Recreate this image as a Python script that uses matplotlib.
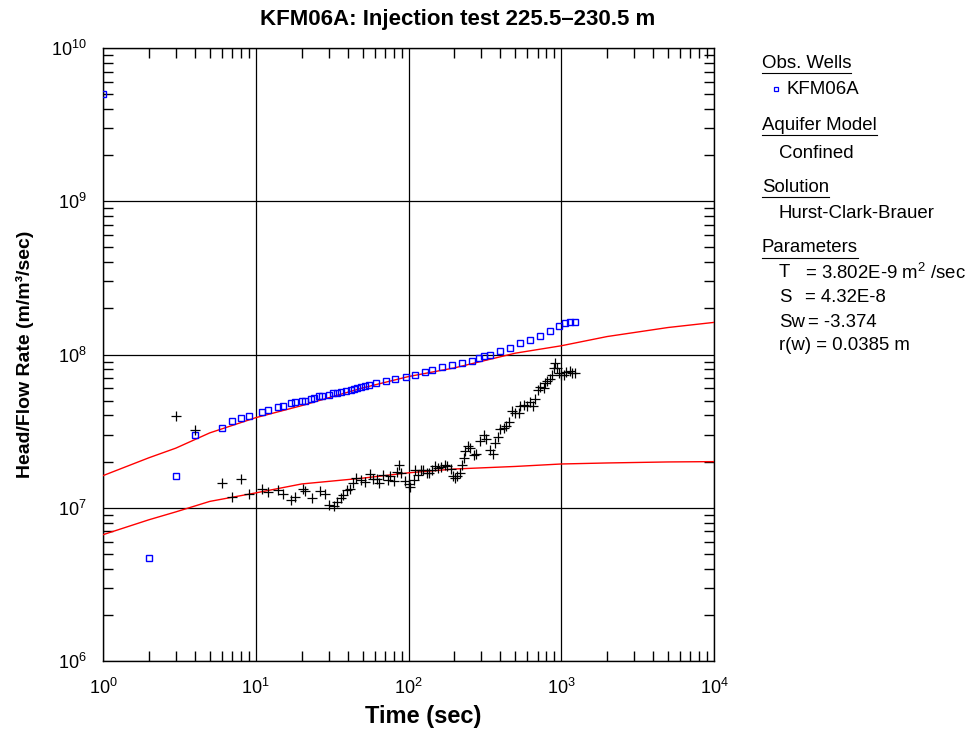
import matplotlib
matplotlib.use("Agg")
import matplotlib.pyplot as plt
from matplotlib.lines import Line2D
from matplotlib.ticker import LogLocator, LogFormatterMathtext, NullFormatter

plt.rcParams["font.family"] = ["Liberation Sans", "DejaVu Sans"]
plt.rcParams["mathtext.fontset"] = "custom"
plt.rcParams["mathtext.rm"] = "Liberation Sans"
plt.rcParams["mathtext.it"] = "Liberation Sans:italic"
plt.rcParams["mathtext.bf"] = "Liberation Sans:bold"

# ---------------------------------------------------------------------------
# data
# ---------------------------------------------------------------------------
obs_time = [1, 2, 3, 4, 6, 7, 8, 9, 11, 12, 14, 15, 17, 18, 20, 21, 23, 24,
            26, 27, 30, 32, 34, 36, 39, 42, 44, 46, 49, 52, 55, 61, 71, 82,
            96, 111, 129, 143, 166, 193, 224, 261, 288, 310, 344, 399, 464,
            540, 627, 729, 848, 960, 1062, 1145, 1235]
obs_head = [5.0e9, 4.67e6, 1.6e7, 3.0e7, 3.33e7, 3.69e7, 3.87e7, 3.97e7,
            4.24e7, 4.35e7, 4.55e7, 4.62e7, 4.81e7, 4.93e7, 4.98e7, 5.0e7,
            5.15e7, 5.21e7, 5.37e7, 5.37e7, 5.46e7, 5.59e7, 5.62e7, 5.67e7,
            5.80e7, 5.85e7, 5.93e7, 6.02e7, 6.11e7, 6.27e7, 6.36e7, 6.53e7,
            6.69e7, 6.93e7, 7.14e7, 7.40e7, 7.66e7, 7.98e7, 8.26e7, 8.57e7,
            8.83e7, 9.10e7, 9.51e7, 9.75e7, 1.0e8, 1.05e8, 1.11e8, 1.18e8,
            1.24e8, 1.33e8, 1.43e8, 1.53e8, 1.60e8, 1.64e8, 1.64e8]

deriv_time = [3, 4, 6, 7, 8, 9, 11, 12, 14, 15, 17, 18, 20.5, 21, 23.5, 26.2,
              28.2, 30.1, 32.5, 33.8, 35.9, 37.4, 39.3, 41.3, 43.2, 45.3,
              48.6, 51.6, 55.6, 58.2, 61.8, 64, 67.6, 73.2, 75.5, 80.7, 84.4,
              86.4, 88.7, 94.2, 100, 103, 108, 111, 116, 120, 125, 133, 137,
              142, 149, 157, 164, 173, 179, 189, 196, 202, 208, 216, 224, 230,
              236, 244, 254, 267, 278, 296, 311, 324, 340, 358, 371, 386, 399,
              420, 435, 453, 476, 500, 526, 540, 567, 597, 621, 653, 676, 700,
              729, 766, 786, 807, 839, 869, 891, 914, 937, 960, 996, 1035,
              1078, 1133, 1175, 1235]
deriv_head = [3.99e7, 3.2e7, 1.46e7, 1.17e7, 1.55e7, 1.23e7, 1.33e7, 1.26e7,
              1.30e7, 1.23e7, 1.12e7, 1.17e7, 1.32e7, 1.28e7, 1.15e7, 1.28e7,
              1.23e7, 1.05e7, 1.03e7, 1.09e7, 1.16e7, 1.21e7, 1.30e7, 1.32e7,
              1.45e7, 1.56e7, 1.52e7, 1.48e7, 1.67e7, 1.55e7, 1.54e7, 1.46e7,
              1.63e7, 1.52e7, 1.60e7, 1.49e7, 1.72e7, 1.89e7, 1.69e7, 1.50e7,
              1.43e7, 1.36e7, 1.52e7, 1.77e7, 1.63e7, 1.77e7, 1.77e7, 1.69e7,
              1.69e7, 1.77e7, 1.88e7, 1.83e7, 1.84e7, 1.91e7, 1.86e7, 1.80e7,
              1.60e7, 1.56e7, 1.60e7, 1.69e7, 1.91e7, 2.11e7, 2.33e7, 2.52e7,
              2.45e7, 2.22e7, 2.25e7, 2.74e7, 3.0e7, 2.81e7, 2.39e7, 2.25e7,
              2.65e7, 2.90e7, 3.27e7, 3.32e7, 3.43e7, 3.61e7, 4.26e7, 4.16e7,
              4.16e7, 4.59e7, 4.71e7, 4.64e7, 4.88e7, 4.64e7, 5.13e7, 5.84e7,
              6.15e7, 6.06e7, 6.53e7, 6.69e7, 6.87e7, 7.40e7, 8.18e7, 8.83e7,
              8.18e7, 7.59e7, 7.40e7, 7.40e7, 7.66e7, 7.78e7, 7.59e7, 7.59e7]

fit_time = [1, 2, 3, 5, 10, 20, 50, 100, 200, 500, 1000, 2000, 5000, 10000]
fit_head = [1.62e7, 2.12e7, 2.45e7, 3.08e7, 3.87e7, 4.64e7, 6.05e7, 7.18e7,
            8.18e7, 1.02e8, 1.14e8, 1.31e8, 1.50e8, 1.62e8]
fit_deriv = [6.67e6, 8.35e6, 9.4e6, 1.10e7, 1.25e7, 1.43e7, 1.56e7, 1.69e7,
             1.79e7, 1.86e7, 1.93e7, 1.96e7, 1.99e7, 2.0e7]

W, H = 979, 729
fig = plt.figure(figsize=(W / 100, H / 100), dpi=100)
ax = fig.add_axes([103 / W, 1 - 661 / H, (714 - 103) / W, (661 - 48) / H])

ax.plot(fit_time, fit_head, color="red", lw=1.0, zorder=3)
ax.plot(fit_time, fit_deriv, color="red", lw=1.0, zorder=3)
ax.plot(obs_time, obs_head, ls="none", marker="s", ms=4.2, mfc="none",
        mec="#0000ff", mew=1.0, zorder=4)
ax.plot(deriv_time, deriv_head, ls="none", marker="+", ms=6.5, color="black",
        mew=0.9, zorder=4)

ax.set_xscale("log")
ax.set_yscale("log")
ax.set_xlim(1, 1e4)
ax.set_ylim(1e6, 1e10)
ax.xaxis.set_major_locator(LogLocator(base=10, numticks=10))
ax.yaxis.set_major_locator(LogLocator(base=10, numticks=10))
ax.xaxis.set_minor_locator(LogLocator(base=10, subs=range(2, 10), numticks=20))
ax.yaxis.set_minor_locator(LogLocator(base=10, subs=range(2, 10), numticks=20))
ax.xaxis.set_major_formatter(LogFormatterMathtext())
ax.yaxis.set_major_formatter(LogFormatterMathtext())
ax.xaxis.set_minor_formatter(NullFormatter())
ax.yaxis.set_minor_formatter(NullFormatter())
ax.tick_params(which="both", direction="in", top=True, right=True,
               labelsize=13, width=1, color="black")
ax.tick_params(which="major", length=0, pad=12)
ax.tick_params(which="minor", length=7)
ax.grid(True, which="major", color="black", lw=0.9)
for s in ax.spines.values():
    s.set_linewidth(1)

ax.set_ylabel("Head/Flow Rate (m/m\u00b3/sec)", fontsize=14,
              fontweight="bold", labelpad=12)
fig.text(423 / W, 1 - 716 / H, "Time (sec)", fontsize=17, fontweight="bold",
         ha="center", va="center")
fig.text(458 / W, 1 - 20 / H, "KFM06A: Injection test 225.5\u2013230.5 m",
         fontsize=16, fontweight="bold", ha="center", va="center")

# ---------------------------------------------------------------------------
# side panel
# ---------------------------------------------------------------------------
renderer = fig.canvas.get_renderer()
fs = 13.4
x0 = 762 / W
x1 = 779 / W
xeq = 805 / W


def ypx(p):
    return 1 - p / H


def header(y, s):
    t = fig.text(x0, ypx(y), s, fontsize=fs, va="center", ha="left")
    bb = t.get_window_extent(renderer=renderer)
    yl = (bb.y0 - 1) / H
    fig.add_artist(Line2D([bb.x0 / W, bb.x1 / W], [yl, yl], color="black",
                          lw=0.8))


header(63, "Obs. Wells")
fig.add_artist(Line2D([776 / W], [ypx(89)], marker="s", ms=3.5, mfc="none",
                      mec="#0000ff", mew=0.9, ls="none"))
fig.text(787 / W, ypx(89), "KFM06A", fontsize=fs, va="center")
header(125, "Aquifer Model")
fig.text(x1, ypx(153), "Confined", fontsize=fs, va="center")
header(187, "Solution")
fig.text(x1, ypx(214), "Hurst-Clark-Brauer", fontsize=fs, va="center")
header(248, "Parameters")
fig.text(x1, ypx(273), "T", fontsize=fs, va="center")
fig.text(xeq, ypx(273), "= 3.802E-9 m$^2$ /sec", fontsize=fs, va="center")
fig.text(x1, ypx(298), "S", fontsize=fs, va="center")
fig.text(xeq, ypx(298), "= 4.32E-8", fontsize=fs, va="center")
fig.text(x1, ypx(322), "Sw", fontsize=fs, va="center")
fig.text(808 / W, ypx(322), "= -3.374", fontsize=fs, va="center")
fig.text(x1, ypx(346), "r(w) = 0.0385 m", fontsize=fs, va="center")

fig.savefig("out.png", dpi=100)
